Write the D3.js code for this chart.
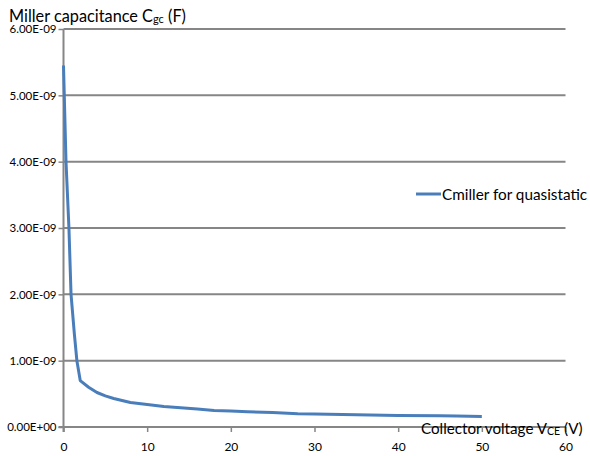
<!DOCTYPE html>
<html><head><meta charset="utf-8">
<script src="https://cdn.jsdelivr.net/npm/d3@7"></script>
<style>body{margin:0;background:#fff}svg{display:block}text{font-family:Lato,"Open Sans",sans-serif;fill:#000}</style>
</head><body><svg id="c" width="590" height="456"></svg>
<script>
const vce = [0, 0.3, 0.65, 0.9, 1.3, 1.6, 2.0, 3, 4, 5, 6, 7, 8, 10, 12, 14, 16, 18, 20, 22, 25, 28, 30, 35, 40, 45, 47, 50];
const cmiller = [5.45e-9, 4.0e-9, 3.0e-9, 2.0e-9, 1.4e-9, 1.0e-9, 0.70e-9, 0.60e-9, 0.52e-9, 0.47e-9, 0.43e-9, 0.40e-9, 0.37e-9, 0.34e-9, 0.31e-9, 0.29e-9, 0.27e-9, 0.25e-9, 0.24e-9, 0.23e-9, 0.22e-9, 0.20e-9, 0.195e-9, 0.185e-9, 0.175e-9, 0.17e-9, 0.165e-9, 0.16e-9];
const xTicks = [0, 10, 20, 30, 40, 50, 60];
const yTicks = [0, 1e-9, 2e-9, 3e-9, 4e-9, 5e-9, 6e-9];
const yTickLabels = ["0.00E+00", "1.00E-09", "2.00E-09", "3.00E-09", "4.00E-09", "5.00E-09", "6.00E-09"];
const seriesName = "Cmiller for quasistatic";

const svg = d3.select("#c");
const x = d3.scaleLinear().domain([0, 60]).range([63.5, 565.5]);
const y = d3.scaleLinear().domain([0, 6e-9]).range([427, 29]);
const grid = "#868686";

// gridlines
svg.append("g").selectAll("line").data(yTicks.slice(1)).join("line")
  .attr("x1", x(0)).attr("x2", x(60)).attr("y1", d => y(d)).attr("y2", d => y(d))
  .attr("stroke", grid).attr("stroke-width", 2);

// y axis
const ya = svg.append("g").attr("transform", `translate(${x(0)},0)`)
  .call(d3.axisLeft(y).tickValues(yTicks).tickSize(5).tickPadding(2).tickFormat((d, i) => yTickLabels[i]));
ya.select(".domain").attr("stroke", grid).attr("stroke-width", 2).attr("d", `M0,${y(6e-9)}V${y(0)+5}`);
ya.selectAll(".tick line").attr("stroke", grid).attr("stroke-width", 1.5);
ya.selectAll(".tick text").attr("font-family", "Lato").attr("font-size", 11.5).attr("fill", "#000");

// x axis
const xa = svg.append("g").attr("transform", `translate(0,${y(0)})`)
  .call(d3.axisBottom(x).tickValues(xTicks).tickSize(5).tickPadding(10).tickFormat(d3.format("d")));
xa.select(".domain").attr("stroke", grid).attr("stroke-width", 2).attr("d", `M${x(0)-5},0H${x(60)}`);
xa.selectAll(".tick line").attr("stroke", grid).attr("stroke-width", 1.5);
xa.selectAll(".tick text").attr("font-family", "Lato").attr("font-size", 12).attr("fill", "#000");

// series
const pts = vce.map((v, i) => [v, cmiller[i]]);
svg.append("path").datum(pts)
  .attr("d", d3.line().x(d => x(d[0])).y(d => y(d[1])))
  .attr("fill", "none").attr("stroke", "#4a7ebb").attr("stroke-width", 3).attr("stroke-linejoin", "round");

// titles
const t1 = svg.append("text").attr("x", 9).attr("y", 22).attr("font-size", 16.3);
t1.append("tspan").text("Miller capacitance C");
t1.append("tspan").attr("font-size", 11).attr("dy", 1).text("gc");
t1.append("tspan").attr("dy", -1).text(" (F)");

const t2 = svg.append("text").attr("x", 421).attr("y", 434).attr("font-size", 15.2);
t2.append("tspan").text("Collector voltage V");
t2.append("tspan").attr("font-size", 10.5).attr("dy", 1).text("CE");
t2.append("tspan").attr("dy", -1).text(" (V)");

// legend
svg.append("line").attr("x1", 416).attr("x2", 441).attr("y1", 194).attr("y2", 194)
  .attr("stroke", "#4a7ebb").attr("stroke-width", 3);
svg.append("text").attr("x", 442).attr("y", 199.5).attr("font-size", 15.3).text(seriesName);
</script></body></html>
